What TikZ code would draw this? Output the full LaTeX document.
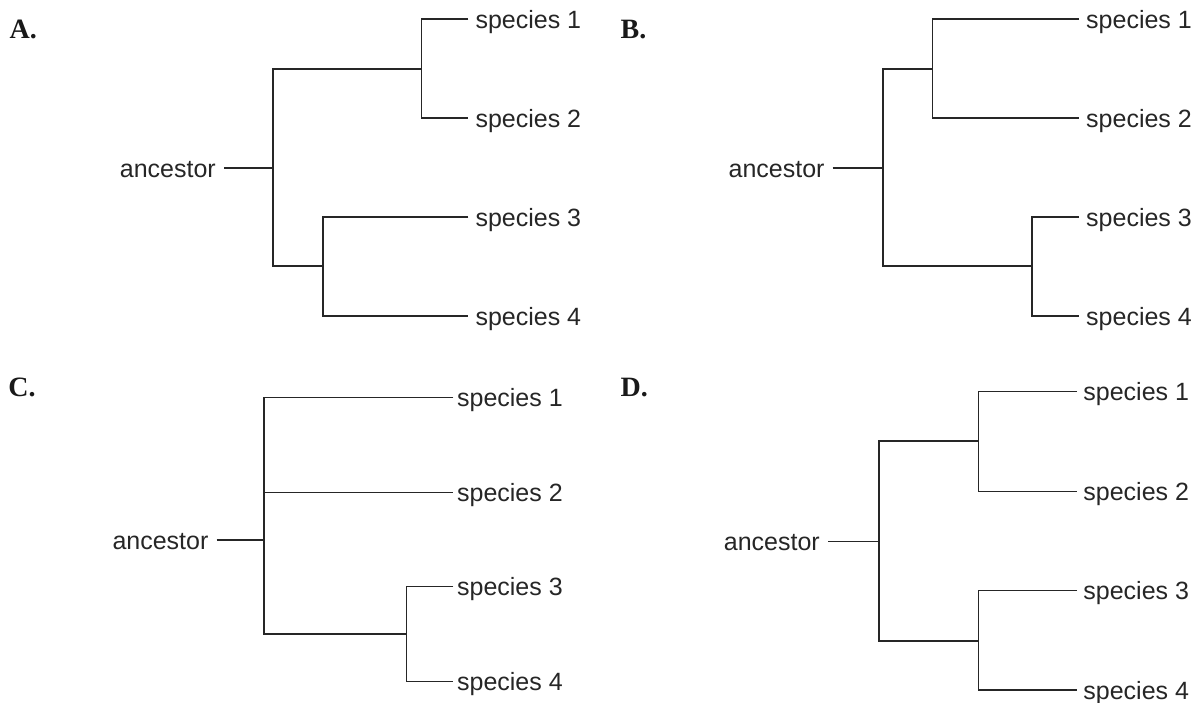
\documentclass[tikz,border=0pt]{standalone}
\usepackage{fontspec}
\setmainfont{Liberation Sans}
\newfontfamily\panelfont{Liberation Serif}
\begin{document}
\begin{tikzpicture}[x=1pt,y=-1pt,
  branch/.style={draw=black!85,line width=1.3pt},
  anc/.style={anchor=east,inner xsep=8pt,inner ysep=0pt,text height=18pt,text depth=0pt,
    font=\fontsize{25}{25}\selectfont,text=black!85},
  leaf/.style={anchor=west,inner xsep=7pt,inner ysep=0pt,text height=18pt,text depth=0pt,
    font=\fontsize{25}{25}\selectfont,text=black!85},
  panel/.style={anchor=base west,inner sep=0pt,font=\panelfont\bfseries\fontsize{28}{28}\selectfont,text=black!90}]
\useasboundingbox (0,0) rectangle (1198,702);

% ---------------- A ----------------
\node[panel] (labA) at (9.5,38.3) {A.};
\node[anc]  (ancA) at (224,168) {ancestor};
\node[leaf] (sA1) at (468.3,19) {species 1};
\node[leaf] (sA2) at (468.3,118) {species 2};
\node[leaf] (sA3) at (468.3,217) {species 3};
\node[leaf] (sA4) at (468.3,316) {species 4};
\coordinate (rA) at (273,168);
\coordinate (pA) at (421.7,69);
\coordinate (qA) at (323,266);
\draw[branch] (ancA.east) -- (rA);
\draw[branch] (pA) -| (rA) |- (qA);
\draw[branch] (sA1.west) -| (pA) |- (sA2.west);
\draw[branch] (sA3.west) -| (qA) |- (sA4.west);

% ---------------- B ----------------
\node[panel] (labB) at (620.5,38.3) {B.};
\node[anc]  (ancB) at (832.7,168) {ancestor};
\node[leaf] (sB1) at (1079,19) {species 1};
\node[leaf] (sB2) at (1079,118) {species 2};
\node[leaf] (sB3) at (1079,217) {species 3};
\node[leaf] (sB4) at (1079,316) {species 4};
\coordinate (rB) at (883,168);
\coordinate (pB) at (932.3,69);
\coordinate (qB) at (1032,266);
\draw[branch] (ancB.east) -- (rB);
\draw[branch] (pB) -| (rB) |- (qB);
\draw[branch] (sB1.west) -| (pB) |- (sB2.west);
\draw[branch] (sB3.west) -| (qB) |- (sB4.west);

% ---------------- C ----------------
\node[panel] (labC) at (8.2,396.8) {C.};
\node[anc]  (ancC) at (216.6,540) {ancestor};
\node[leaf,inner xsep=3.5pt] (sC1) at (453.4,397.7) {species 1};
\node[leaf,inner xsep=3.5pt] (sC2) at (453.4,492.7) {species 2};
\node[leaf,inner xsep=3.5pt] (sC3) at (453.4,586.7) {species 3};
\node[leaf,inner xsep=3.5pt] (sC4) at (453.4,681.7) {species 4};
\coordinate (rC) at (264,540);
\coordinate (qC) at (406.3,634);
\draw[branch] (ancC.east) -- (rC);
\draw[branch] (sC1.west) -| (rC) |- (qC);
\draw[branch] (rC |- sC2.west) -- (sC2.west);
\draw[branch] (sC3.west) -| (qC) |- (sC4.west);

% ---------------- D ----------------
\node[panel] (labD) at (620.5,396.7) {D.};
\node[anc]  (ancD) at (828,541.7) {ancestor};
\node[leaf,inner xsep=6pt] (sD1) at (1077.2,391.7) {species 1};
\node[leaf,inner xsep=6pt] (sD2) at (1077.2,491.7) {species 2};
\node[leaf,inner xsep=6pt] (sD3) at (1077.2,590.7) {species 3};
\node[leaf,inner xsep=6pt] (sD4) at (1077.2,690) {species 4};
\coordinate (rD) at (879,541.7);
\coordinate (pD) at (978.7,441);
\coordinate (qD) at (978.7,641);
\draw[branch] (ancD.east) -- (rD);
\draw[branch] (pD) -| (rD) |- (qD);
\draw[branch] (sD1.west) -| (pD) |- (sD2.west);
\draw[branch] (sD3.west) -| (qD) |- (sD4.west);
\end{tikzpicture}
\end{document}
